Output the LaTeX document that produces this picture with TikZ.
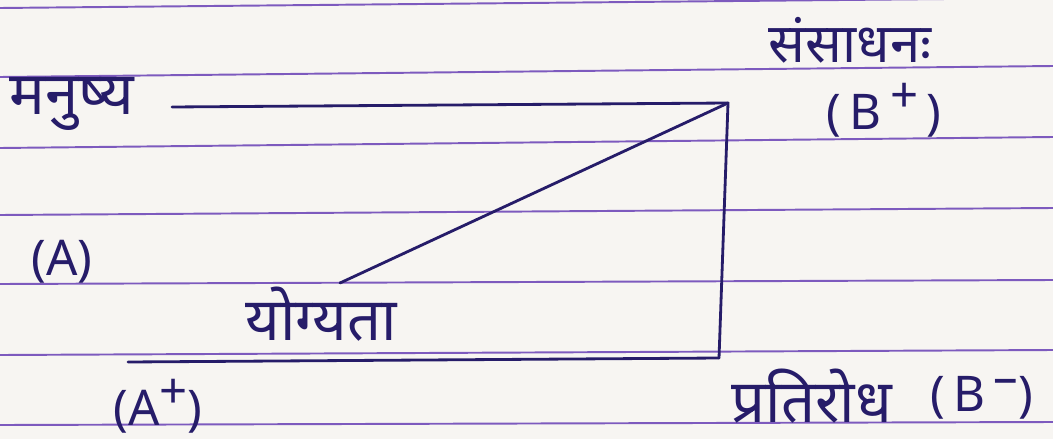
\documentclass[tikz,border=0pt]{standalone}
\usepackage{fontspec}
\setmainfont{Noto Sans}
\newfontfamily\hindi[Script=Devanagari]{Noto Sans}
\definecolor{ink}{RGB}{38,28,105}
\definecolor{rulecol}{RGB}{125,90,190}
\definecolor{paper}{RGB}{247,245,242}
\newcommand{\up}[1]{\raisebox{0.35em}{#1}}

\begin{document}
\begin{tikzpicture}[
    x=0.02cm, y=-0.02cm,
    every node/.style={text=ink, inner sep=0pt},
    ruled/.style={rulecol, line width=1.1pt},
    pen/.style={ink, line width=1.6pt, line cap=round, line join=round},
    hword/.style={font=\hindi\fontsize{34}{38}\selectfont},
    tag/.style={font=\fontsize{28}{32}\selectfont},
]

% === Paper ===
\fill[paper] (0,0) rectangle (1053,439);
\useasboundingbox (0,0) rectangle (1053,439);

% === Ruled lines ===
\foreach \yl/\yr in {8/-2, 77/66, 148/137, 215/208, 284/280, 355/350, 425/422}
  \draw[ruled] (0,\yl) -- (1053,\yr);

% === Words ===
\node[hword] (manushya) at (72,104) {मनुष्य};
\node[hword, font=\hindi\fontsize{31}{36}\selectfont] (sansadhan) at (850,40) {संसाधनः};
\node[tag] (bplus) at (884,110) {(\,B\,\up{+}\,)};
\node[tag] (a) at (62,262) {(A)};
\node[hword] (yogyata) at (321,314) {योग्यता};
\node[tag] (aplus) at (158,406) {(A\up{+})};
\node[hword] (pratirodh) at (812,396) {प्रतिरोध};
\node[tag] (bminus) at (982,398) {(\,B\,\up{--})};

% === Lines ===
\coordinate (corner) at (728,103);
\coordinate (topstart) at (172,107);
\coordinate (diagend) at (340,283);
\coordinate (vbottom) at (719,358);
\coordinate (botstart) at (128,362);
\draw[pen] (topstart) -- (corner) -- (vbottom);
\draw[pen] (corner) -- (diagend);
\draw[pen] (botstart) -- (vbottom);

\end{tikzpicture}
\end{document}
